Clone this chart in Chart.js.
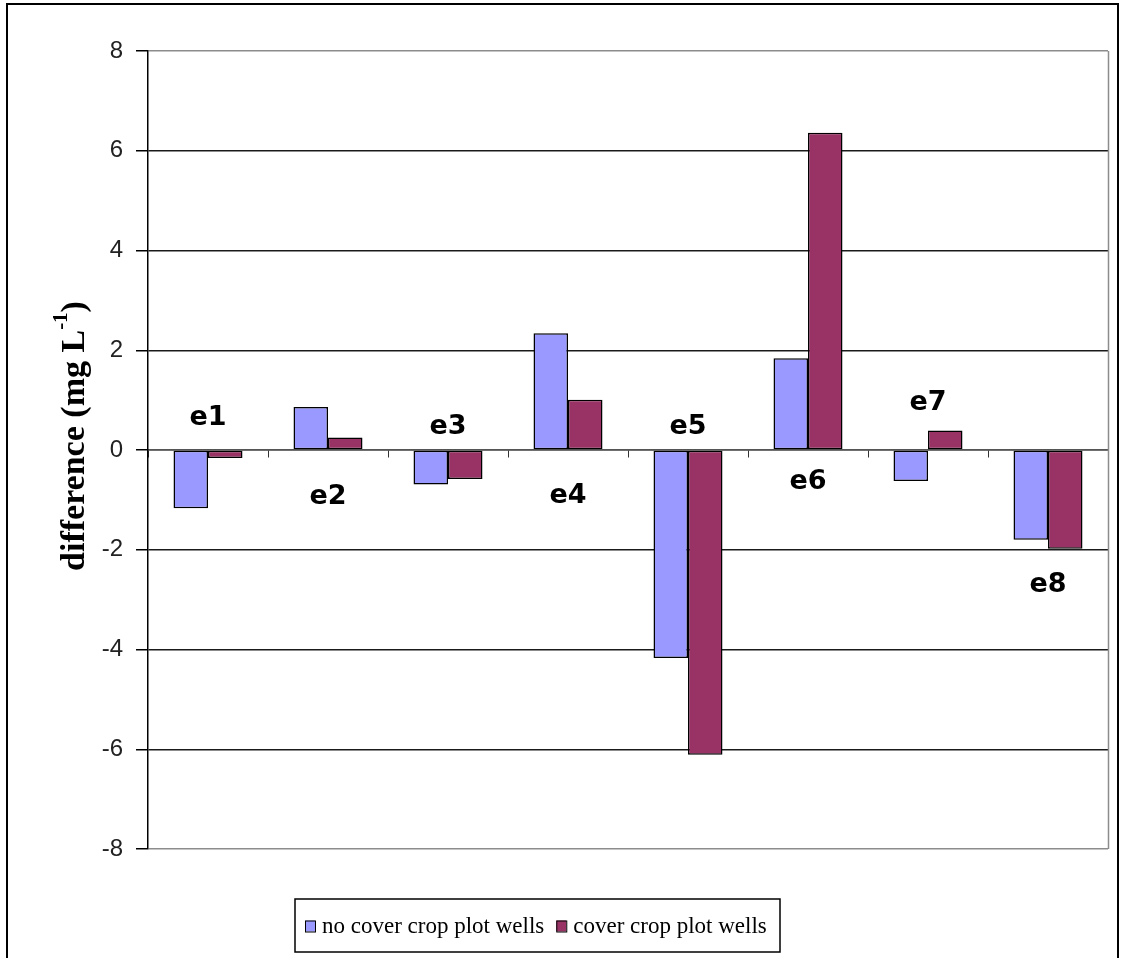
<!DOCTYPE html>
<html>
<head>
<meta charset="utf-8">
<script src="https://cdn.jsdelivr.net/npm/chart.js@4.4.1/dist/chart.umd.min.js"></script>
<style>
  html, body { margin: 0; padding: 0; background: #ffffff; }
  canvas { display: block; }
</style>
</head>
<body>
<canvas id="chart" width="1121" height="958"></canvas>
<script>
// Nitrate difference per well pair (mg L-1)
const categories = ['e1', 'e2', 'e3', 'e4', 'e5', 'e6', 'e7', 'e8'];
const noCoverCropWells = [-1.17, 0.86, -0.69, 2.34, -4.17, 1.84, -0.62, -1.80];
const coverCropWells = [-0.16, 0.25, -0.58, 1.01, -6.11, 6.36, 0.39, -1.98];
const seriesNames = ['no cover crop plot wells', 'cover crop plot wells'];
const yTickValues = [-8, -6, -4, -2, 0, 2, 4, 6, 8];
// value on the y scale where each well name is written
const nameAnchors = [0.65, -0.95, 0.47, -0.93, 0.47, -0.65, 0.95, -2.7];

const BLUE = '#9999ff';
const PLUM = '#993366';

// Outer frame, plot border, y-axis title, well names and the boxed legend
const decorations = {
  id: 'decorations',
  beforeDraw(chart) {
    const ctx = chart.ctx;
    ctx.save();
    ctx.fillStyle = '#ffffff';
    ctx.fillRect(0, 0, chart.width, chart.height);
    ctx.restore();
  },
  afterDatasetsDraw(chart) {
    const ctx = chart.ctx;
    const area = chart.chartArea;
    const xs = chart.scales.x;
    const ys = chart.scales.y;

    // grey plot-area border on the right
    ctx.save();
    ctx.strokeStyle = '#8c8c8c';
    ctx.lineWidth = 1.5;
    ctx.beginPath();
    ctx.moveTo(area.right + 0.5, area.top);
    ctx.lineTo(area.right + 0.5, area.bottom);
    ctx.stroke();
    ctx.restore();

    // well names
    ctx.save();
    ctx.fillStyle = '#000';
    ctx.font = 'bold 27px "DejaVu Sans"';
    ctx.textAlign = 'center';
    ctx.textBaseline = 'middle';
    categories.forEach((name, i) => {
      ctx.fillText(name, xs.getPixelForValue(i), ys.getPixelForValue(nameAnchors[i]));
    });
    ctx.restore();
  },
  afterDraw(chart) {
    const ctx = chart.ctx;

    // outer frame
    ctx.save();
    ctx.strokeStyle = '#000';
    ctx.lineWidth = 2;
    ctx.strokeRect(7, 4, 1111, 970);
    ctx.restore();

    // y-axis title with superscript
    ctx.save();
    ctx.translate(73, 436);
    ctx.rotate(-Math.PI / 2);
    ctx.fillStyle = '#000';
    ctx.textBaseline = 'middle';
    const mainFont = 'bold 34px "Liberation Serif"';
    const supFont = 'bold 21px "Liberation Serif"';
    const part1 = 'difference (mg L';
    const sup = '-1';
    const part2 = ')';
    ctx.font = mainFont;
    const w1 = ctx.measureText(part1).width;
    const w3 = ctx.measureText(part2).width;
    ctx.font = supFont;
    const w2 = ctx.measureText(sup).width;
    let x = -(w1 + w2 + w3) / 2;
    ctx.font = mainFont;
    ctx.textAlign = 'left';
    ctx.fillText(part1, x, 2);
    x += w1;
    ctx.font = supFont;
    ctx.fillText(sup, x, -11);
    x += w2;
    ctx.font = mainFont;
    ctx.fillText(part2, x, 2);
    ctx.restore();

    // legend box
    ctx.save();
    const boxL = 295, boxT = 899, boxR = 780, boxB = 952;
    ctx.strokeStyle = '#000';
    ctx.lineWidth = 1.5;
    ctx.strokeRect(boxL, boxT, boxR - boxL, boxB - boxT);
    ctx.font = '23px "Liberation Serif"';
    ctx.textBaseline = 'middle';
    ctx.textAlign = 'left';
    const midY = (boxT + boxB) / 2 + 1;
    let lx = boxL + 10;
    chart.data.datasets.forEach((ds) => {
      ctx.fillStyle = ds.backgroundColor;
      ctx.fillRect(lx, midY - 6, 10, 11);
      ctx.strokeStyle = '#000';
      ctx.lineWidth = 1;
      ctx.strokeRect(lx + 0.5, midY - 5.5, 10, 11);
      ctx.fillStyle = '#000';
      ctx.fillText(ds.label, lx + 17, midY);
      lx += 17 + ctx.measureText(ds.label).width + 12;
    });
    ctx.restore();
  }
};

new Chart(document.getElementById('chart'), {
  type: 'bar',
  data: {
    labels: categories,
    datasets: [
      {
        label: seriesNames[0],
        data: noCoverCropWells,
        backgroundColor: BLUE,
        borderColor: '#000',
        borderWidth: 1.5,
        borderSkipped: false
      },
      {
        label: seriesNames[1],
        data: coverCropWells,
        backgroundColor: PLUM,
        borderColor: '#000',
        borderWidth: 1.5,
        borderSkipped: false
      }
    ]
  },
  options: {
    responsive: false,
    animation: false,
    events: [],
    layout: { padding: { left: 0, top: 51, right: 13, bottom: 109 } },
    datasets: { bar: { categoryPercentage: 0.575, barPercentage: 1.0 } },
    plugins: {
      legend: { display: false },
      tooltip: { enabled: false },
      title: { display: false }
    },
    scales: {
      x: {
        type: 'category',
        position: { y: 0 },
        offset: true,
        grid: {
          offset: true,
          drawOnChartArea: false,
          drawTicks: true,
          tickLength: 7,
          color: '#333',
          lineWidth: 1
        },
        border: { display: true, color: '#555', width: 1.5 },
        ticks: { display: false }
      },
      y: {
        min: -8,
        max: 8,
        afterBuildTicks(scale) {
          scale.ticks = yTickValues.map(v => ({ value: v }));
        },
        afterFit(scale) {
          scale.width = 148;
        },
        grid: {
          color: (c) => (c.tick && Math.abs(c.tick.value) === 8) ? '#8c8c8c' : '#1a1a1a',
          lineWidth: 1.5,
          tickLength: 12,
          tickColor: '#000',
          drawTicks: true
        },
        border: { display: true, color: '#000', width: 1.5 },
        ticks: {
          padding: 13,
          color: '#222',
          font: { family: '"Liberation Sans", Arial, sans-serif', size: 24 }
        }
      }
    }
  },
  plugins: [decorations]
});
</script>
</body>
</html>
